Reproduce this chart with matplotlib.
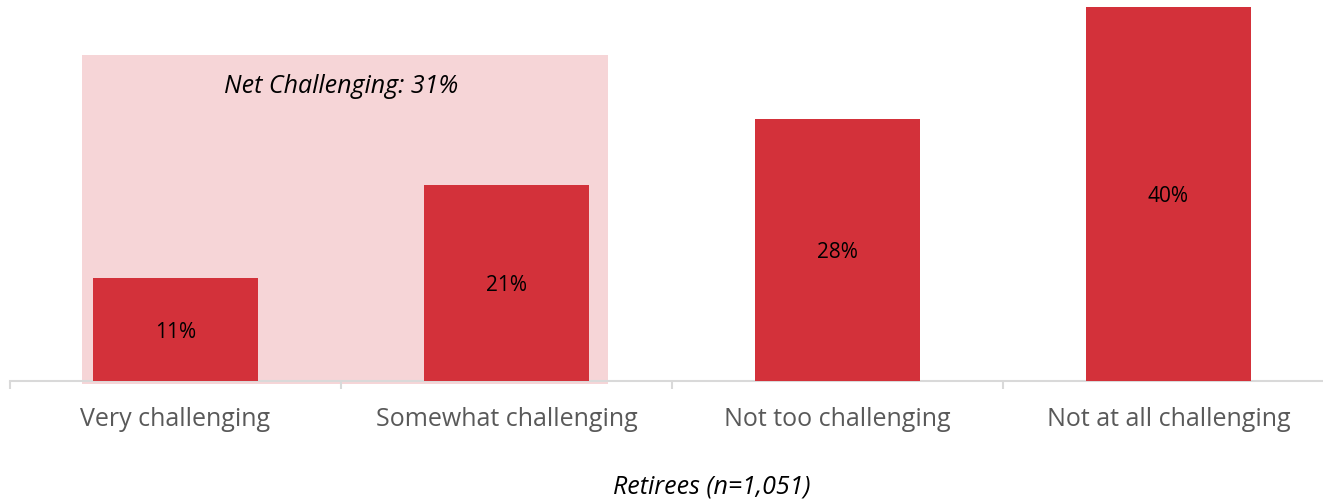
import matplotlib.pyplot as plt
from matplotlib.patches import Rectangle

categories = ["Very challenging", "Somewhat challenging", "Not too challenging", "Not at all challenging"]
values = [11, 21, 28, 40]
value_labels = ["11%", "21%", "28%", "40%"]
net_label = "Net Challenging: 31%"
xlabel = "Retirees (n=1,051)"

plt.rcParams["font.family"] = ["Open Sans", "DejaVu Sans"]

W, H = 1323, 503
fig = plt.figure(figsize=(W / 100, H / 100), dpi=100)
ax = fig.add_axes([10 / W, (H - 381) / H, 1324 / W, 374 / H])

x = list(range(len(categories)))
ax.bar(x, values, width=0.5, color="#D3313A", zorder=3)

# shaded "net challenging" block behind the first two bars
ax.add_patch(Rectangle((-0.282, -0.3), 1.589, 35.2, facecolor="#F6D5D7",
                       edgecolor="none", zorder=1, clip_on=False))
ax.text(0.5, 31.5, net_label, ha="center", va="center", fontsize=18,
        style="italic", color="black", zorder=4)

for xi, v, lab in zip(x, values, value_labels):
    ax.text(xi, v / 2, lab, ha="center", va="center_baseline", fontsize=15,
            color="black", zorder=4)

ax.set_xlim(-0.5, len(categories) - 0.5)
ax.set_ylim(0, 40)
ax.set_yticks([])
for s in ["left", "right", "top"]:
    ax.spines[s].set_visible(False)
ax.spines["bottom"].set_color("#D9D9D9")
ax.spines["bottom"].set_linewidth(1.5)
ax.spines["bottom"].set_zorder(2)

ax.set_xticks(x, labels=categories)
ax.tick_params(axis="x", which="major", length=0, pad=19, labelsize=18,
               labelcolor="#595959")
ax.set_xticks([i + 0.5 for i in range(-1, len(categories))], minor=True)
ax.tick_params(axis="x", which="minor", length=6, width=1.5, color="#D9D9D9")

fig.text(712 / W, 1 - 487 / H, xlabel, ha="center", va="center",
         fontsize=18, style="italic", color="black")

plt.savefig("out.png", dpi=100)
plt.close()
